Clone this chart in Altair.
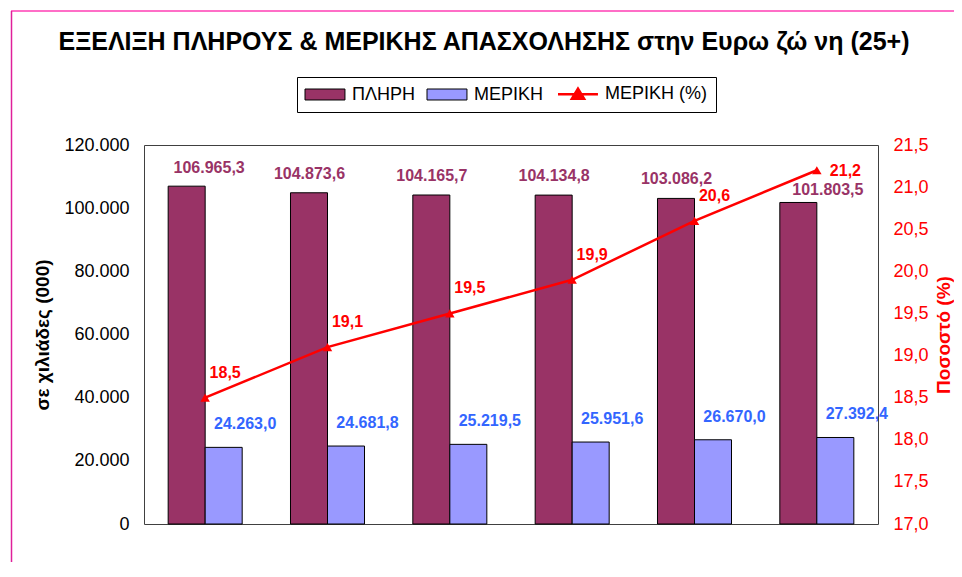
import altair as alt
import pandas as pd

# ---------------- data ----------------
years = ["2008", "2009", "2010", "2011", "2012", "2013"]
full_time = [106965.3, 104873.6, 104165.7, 104134.8, 103086.2, 101803.5]
part_time = [24263.0, 24681.8, 25219.5, 25951.6, 26670.0, 27392.4]
part_pct = [18.5, 19.1, 19.5, 19.9, 20.6, 21.2]
series_names = ["ΠΛΗΡΗ", "ΜΕΡΙΚΗ", "ΜΕΡΙΚΗ (%)"]
series_colors = ["#993366", "#9999FF", "#FF0000"]
left_ticks = [0, 20000, 40000, 60000, 80000, 100000, 120000]
right_ticks = [17.0, 17.5, 18.0, 18.5, 19.0, 19.5, 20.0, 20.5, 21.0, 21.5]
title_text = "ΕΞΕΛΙΞΗ ΠΛΗΡΟΥΣ & ΜΕΡΙΚΗΣ ΑΠΑΣΧΟΛΗΣΗΣ στην Ευρω ζώ νη (25+)"
y_left_title = "σε χιλιάδες (000)"
y_right_title = "Ποσοστό (%)"


def greek_num(v, d):
    s = f"{v:,.{d}f}"
    return s.replace(",", "#").replace(".", ",").replace("#", ".")


rows = []
for i, (y, f, p) in enumerate(zip(years, full_time, part_time)):
    rows.append({"year": y, "idx": i, "series": series_names[0], "value": f, "label": greek_num(f, 1)})
    rows.append({"year": y, "idx": i, "series": series_names[1], "value": p, "label": greek_num(p, 1)})
bars_df = pd.DataFrame(rows)

pct_df = pd.DataFrame({
    "year": years,
    "idx": list(range(len(years))),
    "pct": part_pct,
    "label": [greek_num(v, 1) for v in part_pct],
})
LAST = len(years) - 1

FONT = "Liberation Sans"
one = pd.DataFrame({"k": [0]})

# ---------------- decorations (outer pink frame) ----------------
pink_top = alt.Chart(one).mark_rule(color="#FF6EC7", strokeWidth=2).encode(
    x=alt.value(-133), x2=alt.value(810), y=alt.value(-134)
)
pink_left = alt.Chart(one).mark_rule(color="#E0209A", strokeWidth=1.5).encode(
    x=alt.value(-132.5), y=alt.value(-134), y2=alt.value(430)
)

# ---------------- bars ----------------
IS_LINE = "datum.value === 'ΜΕΡΙΚΗ (%)'"

bars = alt.Chart(bars_df).mark_bar(stroke="black", strokeWidth=1).encode(
    x=alt.X(
        "year:N",
        sort=years,
        scale=alt.Scale(paddingInner=0.395, paddingOuter=0.1975),
        axis=alt.Axis(title=None, labelAngle=0, labelFont=FONT, labelFontSize=18,
                      labelColor="black", labelPadding=25, ticks=False, domain=False),
    ),
    xOffset=alt.XOffset("series:N", scale=alt.Scale(domain=series_names[:2], paddingInner=0, paddingOuter=0)),
    y=alt.Y(
        "value:Q",
        scale=alt.Scale(domain=[0, 120000], nice=False, zero=True),
        axis=alt.Axis(title=y_left_title, values=left_ticks,
                      labelExpr="replace(format(datum.value, ','), regexp(',', 'g'), '.')",
                      labelFont=FONT, labelFontSize=18, labelColor="black", labelPadding=15,
                      ticks=False, domain=False, grid=False,
                      titleFont=FONT, titleFontSize=19, titleFontWeight="bold", titleColor="black",
                      titlePadding=11),
    ),
    color=alt.Color(
        "series:N",
        scale=alt.Scale(domain=series_names, range=series_colors),
        legend=alt.Legend(
            orient="none", legendX=153, legendY=-68, direction="horizontal", title=None,
            strokeColor="#000000", fillColor="#FFFFFF", padding=8,
            symbolSize=324, labelOffset=29, columnPadding=9,
            symbolType=alt.ExprRef(expr=IS_LINE + " ? 'M-1,0H3.44M1.22,-0.62L1.9,0.52H0.54Z' : 'M-1,-0.61H3.44V0.61H-1Z'"),
            symbolStrokeColor=alt.ExprRef(expr=IS_LINE + " ? '#FF0000' : '#000000'"),
            symbolStrokeWidth=alt.ExprRef(expr=IS_LINE + " ? 2.5 : 1"),
            symbolOpacity=1,
            labelFont=FONT, labelFontSize=18, labelColor="black",
        ),
    ),
)


def value_text(series, flt, dx, dy, color):
    return alt.Chart(bars_df).transform_filter(
        alt.datum.series == series
    ).transform_filter(flt).mark_text(
        dx=dx, dy=dy, baseline="middle", align="center", font=FONT,
        fontSize=16, fontWeight="bold", color=color
    ).encode(
        x=alt.X("year:N", sort=years, axis=None),
        y=alt.Y("value:Q", scale=alt.Scale(domain=[0, 120000], nice=False), axis=None),
        text="label:N",
    )


full_text_first = value_text(series_names[0], "datum.idx === 0", 4, -18, "#993366")
full_text_mid = value_text(series_names[0], f"datum.idx > 0 && datum.idx < {LAST}", -18, -19, "#993366")
full_text_last = value_text(series_names[0], f"datum.idx === {LAST}", 11, -12, "#993366")
part_text = value_text(series_names[1], "true", 40, -23, "#3366FF")

# ---------------- line (right axis) ----------------
line = alt.Chart(pct_df).mark_line(
    color="#FF0000", strokeWidth=2.5,
    point=alt.OverlayMarkDef(shape="triangle-up", filled=True, size=90, color="#FF0000"),
).encode(
    x=alt.X("year:N", sort=years, axis=None),
    y=alt.Y(
        "pct:Q",
        scale=alt.Scale(domain=[17, 21.5], nice=False, zero=False),
        axis=alt.Axis(orient="right", title=y_right_title, values=right_ticks,
                      labelExpr="replace(format(datum.value, '.1f'), '.', ',')",
                      labelFont=FONT, labelFontSize=18, labelColor="#FF0000", labelPadding=15,
                      ticks=False, domain=False, grid=False,
                      titleFont=FONT, titleFontSize=19, titleFontWeight="bold", titleColor="#FF0000",
                      titleAngle=270, titleBaseline="top", titlePadding=6),
    ),
)


def pct_label(flt, dx, dy, align):
    return alt.Chart(pct_df).transform_filter(flt).mark_text(
        dx=dx, dy=dy, baseline="middle", align=align, font=FONT,
        fontSize=16, fontWeight="bold", color="#FF0000"
    ).encode(
        x=alt.X("year:N", sort=years, axis=None),
        y=alt.Y("pct:Q", scale=alt.Scale(domain=[17, 21.5], nice=False, zero=False), axis=None),
        text="label:N",
    )


pct_text = pct_label(f"datum.idx < {LAST}", 20, -25, "center")
pct_text_last = pct_label(f"datum.idx === {LAST}", 13, 1, "left")

chart = alt.layer(
    pink_top, pink_left, bars, full_text_first, full_text_mid, full_text_last, part_text,
    line, pct_text, pct_text_last
).resolve_scale(
    y="independent"
).properties(
    width=734,
    height=379,
    padding={"left": 136, "top": 137, "right": 76, "bottom": 38},
    autosize=alt.AutoSizeParams(type="none"),
    background="white",
    title=alt.Title(title_text, font=FONT, fontSize=25, fontWeight="bold", color="black",
                    anchor="middle", frame="group", offset=0, dx=-27, dy=45),
).configure_view(
    stroke="#404040", strokeWidth=1
)

chart.save("out.html", embed_options={"renderer": "svg", "actions": False})
